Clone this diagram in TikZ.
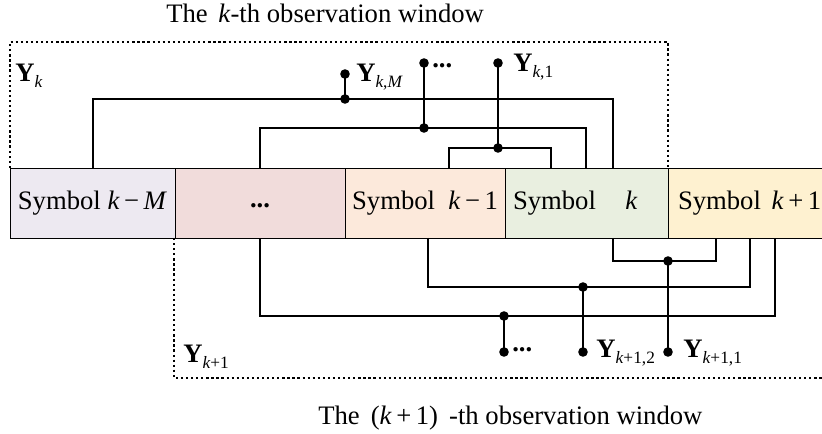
\documentclass[tikz,border=0pt]{standalone}
\usepackage{fontspec}
\setmainfont{Liberation Serif}
\newcommand{\Yl}[1]{\textbf{Y}\raisebox{-4.5pt}{\fontsize{13}{14}\selectfont #1}}
\definecolor{cA}{HTML}{EDE9F1}
\definecolor{cB}{HTML}{F1DCDB}
\definecolor{cC}{HTML}{FCE9DB}
\definecolor{cD}{HTML}{E9EFE0}
\definecolor{cE}{HTML}{FEF1D0}
\begin{document}
\begin{tikzpicture}[x=0.75pt,y=-0.75pt,
  font=\fontsize{20}{24}\selectfont,
  wire/.style={line width=1.5pt, black},
  win/.style={line width=1.7pt, dash pattern=on 1.7pt off 2.1pt},
  box/.style={draw=black, line width=0.7pt, minimum height=52.5pt, inner ysep=0pt},
  dotn/.style={circle, fill=black, minimum size=7.2pt, inner sep=0pt},
  lab/.style={anchor=base west, inner sep=0pt}]
\clip (0,0) rectangle (822,434);
% symbol boxes
\node[box, fill=cA, minimum width=123.75pt, inner xsep=0pt] (s1) at (92.5,203) {Symbol \textit{k}\,−\,\textit{M}};
\node[box, fill=cB, minimum width=127.5pt, inner xsep=0pt] (s2) at (260,203) {\rule{0pt}{7.5pt}\textbf{...}};
\node[box, fill=cC, minimum width=120pt, inner xsep=0pt] (s3) at (425,203) {Symbol\hspace{5pt} \textit{k}\,−\,1};
\node[box, fill=cD, inner xsep=6pt, text width=110.25pt, align=left] (s4) at (586.5,203) {Symbol\hspace{22pt}\textit{k}};
\node[box, fill=cE, inner xsep=7.5pt, text width=114pt, align=left] (s5) at (754,203) {Symbol\hspace{8pt}\textit{k}\,+\,1};
% observation windows
\draw[win] (10,168) -- (10,42) -- (668,42) -- (668,168);
\draw[win] (174,238) -- (174,378) -- (830,378);
% tap points
\coordinate (p4a) at (613,168);
\coordinate (p4b) at (586,168);
\coordinate (p3a) at (449,168);
\coordinate (p4c) at (551,168);
\coordinate (p4d) at (613,238);
\coordinate (p5a) at (716,238);
\coordinate (p3b) at (428,238);
\coordinate (p5b) at (750,238);
\coordinate (p5c) at (775,238);
% junctions and outputs
\node[dotn] (jM) at (345,99) {};
\node[dotn] (oM) at (345,74) {};
\node[dotn] (j2) at (424,128) {};
\node[dotn] (o2) at (424,63) {};
\node[dotn] (j1) at (498,148) {};
\node[dotn] (o1) at (498,63) {};
\node[dotn] (b1) at (668,261) {};
\node[dotn] (q1) at (668,352) {};
\node[dotn] (b2) at (583,287) {};
\node[dotn] (q2) at (583,352) {};
\node[dotn] (b3) at (504,316) {};
\node[dotn] (q3) at (504,352) {};
% wires
\draw[wire] (s1.north) |- (jM.center) -| (p4a);
\draw[wire] (jM.center) -- (oM.center);
\draw[wire] (s2.north) |- (j2.center) -| (p4b);
\draw[wire] (j2.center) -- (o2.center);
\draw[wire] (p3a) |- (j1.center) -| (p4c);
\draw[wire] (j1.center) -- (o1.center);
\draw[wire] (p4d) |- (b1.center) -| (p5a);
\draw[wire] (b1.center) -- (q1.center);
\draw[wire] (p3b) |- (b2.center) -| (p5b);
\draw[wire] (b2.center) -- (q2.center);
\draw[wire] (s2.south) |- (b3.center) -| (p5c);
\draw[wire] (b3.center) -- (q3.center);
% labels
\node[lab] (lk) at (15,82) {\Yl{\textit{k}}};
\node[lab] (lkM) at (356,82) {\Yl{\textit{k},\textit{M}}};
\node[lab] (lkd) at (432,68) {\textbf{...}};
\node[lab] (lk1) at (513,72) {\Yl{\textit{k},1}};
\node[lab] (lk1w) at (183,363) {\Yl{\textit{k}+1}};
\node[lab] (lqd) at (512,352) {\textbf{...}};
\node[lab] (lq2) at (596,358) {\Yl{\textit{k}+1,2}};
\node[lab] (lq1) at (683,358) {\Yl{\textit{k}+1,1}};
% titles
\node[lab] (t1) at (166,23) {The\hspace{8pt}\textit{k}-th observation window};
\node[lab] (t2) at (318,425) {The \,(\textit{k}\,+\,1)\, -th observation window};
\end{tikzpicture}
\end{document}
